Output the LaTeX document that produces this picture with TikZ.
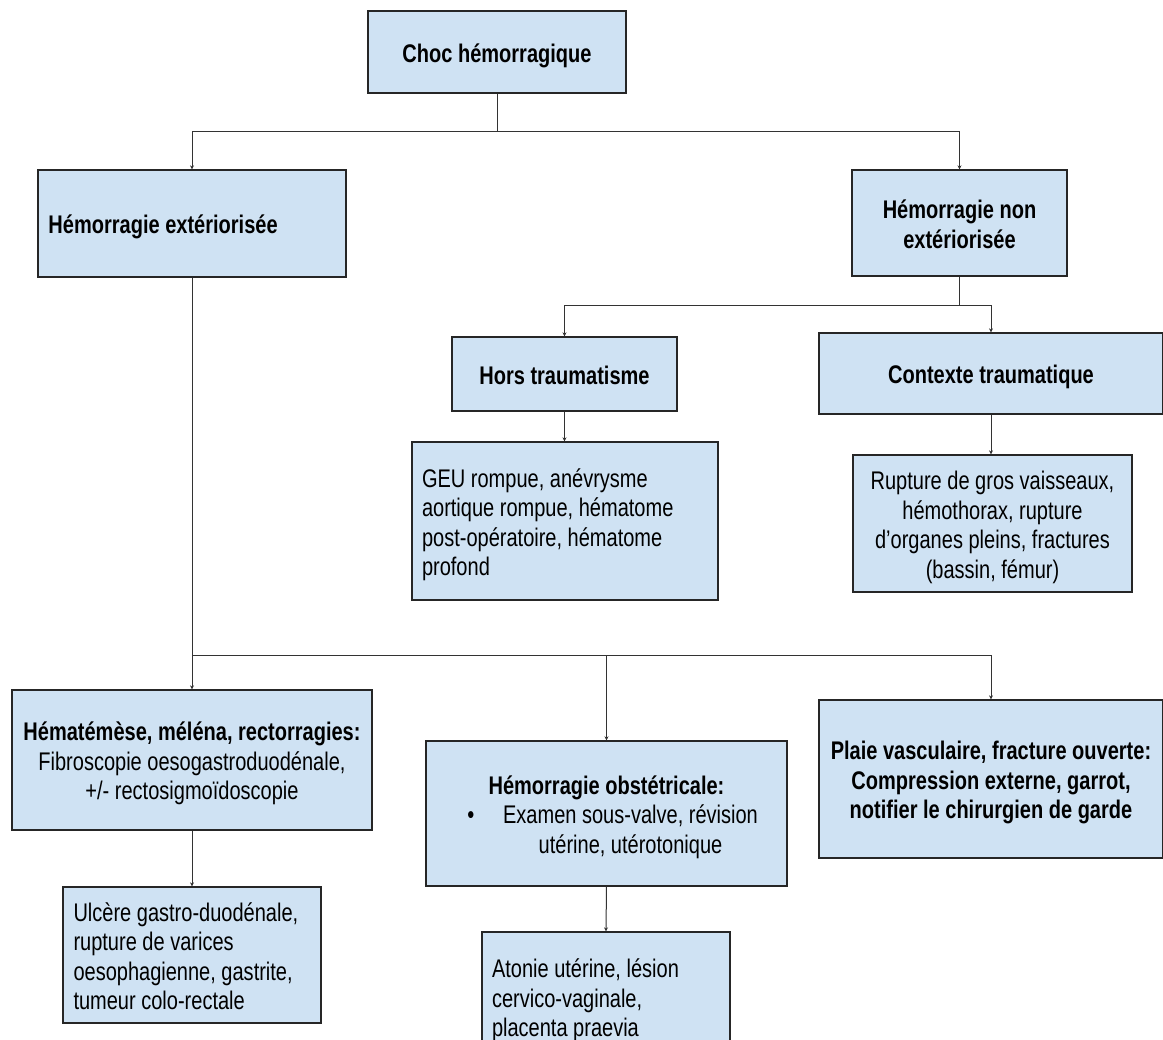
\documentclass[tikz,border=0pt]{standalone}
\usepackage{fontspec}
\setmainfont{Liberation Sans}[FakeStretch=0.785]
\usetikzlibrary{arrows.meta}

\definecolor{boxfill}{HTML}{CFE2F3}
\definecolor{boxline}{HTML}{262626}
\definecolor{wire}{HTML}{333333}

% struts fixing the height of the first line and the depth of the last one
\newcommand\topst{\rule{0pt}{26pt}}
\newcommand\botst{\rule[-5pt]{0pt}{5pt}}

\tikzset{
  card/.style={rectangle, draw=boxline, line width=1.3pt, fill=boxfill,
    inner sep=0pt, align=center, font=\fontsize{25.5}{29.5}\selectfont},
  lcard/.style={card, align=flush left, inner xsep=10pt},
  conn/.style={draw=wire, line width=1pt},
  arr/.style={conn, -{Stealth[length=4pt,width=4pt]}},
}

\begin{document}
\begin{tikzpicture}[x=1pt,y=-1pt]
  \useasboundingbox (0,0) rectangle (1163,1040);
  \clip (0,0) rectangle (1163,1040);

  % level 1
  \node[card, minimum width=258pt, minimum height=82pt] (choc) at (497,52)
    {\topst\bfseries Choc hémorragique\botst};

  % level 2
  \node[lcard, minimum width=308pt, text width=287pt, minimum height=107pt] (hext) at (192,223.5)
    {\topst\bfseries Hémorragie extériorisée\botst};
  \node[card, minimum width=215pt, minimum height=106pt] (hnon) at (959.5,223)
    {\topst\bfseries Hémorragie non\\\bfseries extériorisée\botst};

  % non-external branch
  \node[card, minimum width=225pt, minimum height=74pt] (hors) at (564.5,374)
    {\topst\bfseries Hors traumatisme\botst};
  \node[card, minimum width=344pt, minimum height=81pt] (ctx) at (991,373.5)
    {\topst\bfseries Contexte traumatique\botst};
  \node[lcard, minimum width=306pt, text width=286pt, minimum height=158pt] (geu) at (565,521)
    {\topst GEU rompue, anévrysme\\aortique rompue, hématome\\post-opératoire, hématome\\profond\botst};
  \node[card, minimum width=279pt, minimum height=137pt] (rup) at (992.5,523.5)
    {\topst Rupture de gros vaisseaux,\\hémothorax, rupture\\d’organes pleins, fractures\\(bassin, fémur)\botst};

  % external branch
  \node[card, minimum width=360pt, minimum height=140pt] (hema) at (192,760)
    {\topst\bfseries Hématémèse, méléna, rectorragies:\\Fibroscopie oesogastroduodénale,\\+/- rectosigmoïdoscopie\botst};
  \node[card, minimum width=361pt, minimum height=145pt] (obst) at (606.5,813.5)
    {\topst{\bfseries Hémorragie obstétricale:}\\
     \hspace*{21pt}\textbullet\hspace*{20pt}\parbox[t]{272pt}{\centering Examen sous-valve, révision\\utérine, utérotonique\botst}};
  \node[card, minimum width=344pt, minimum height=158pt] (plaie) at (991,779)
    {\topst\bfseries Plaie vasculaire, fracture ouverte:\\\bfseries Compression externe, garrot,\\\bfseries notifier le chirurgien de garde\botst};
  \node[lcard, minimum width=258pt, text width=237pt, minimum height=136pt] (ulc) at (192,955)
    {\topst Ulcère gastro-duodénale,\\rupture de varices\\oesophagienne, gastrite,\\tumeur colo-rectale\botst};
  \node[lcard, minimum width=248pt, text width=228pt, minimum height=130pt] (aton) at (606,997)
    {\topst Atonie utérine, lésion\\cervico-vaginale,\\placenta praevia\botst};

  % junction points
  \coordinate (j1) at (497,132);
  \coordinate (j2) at (959.5,306);
  \coordinate (j3) at (192,655);

  % connectors
  \draw[conn] (choc.south) -- (j1);
  \draw[arr] (j1) -| (hext.north);
  \draw[arr] (j1) -| (hnon.north);

  \draw[conn] (hnon.south) -- (j2);
  \draw[arr] (j2) -| (hors.north);
  \draw[arr] (j2) -| (ctx.north);
  \draw[arr] (hors.south) -- (hors.south |- geu.north);
  \draw[arr] (ctx.south) -- (ctx.south |- rup.north);

  \draw[arr] (hext.south) -- (hema.north);
  \draw[arr] (j3) -| (obst.north);
  \draw[arr] (j3) -| (plaie.north);
  \draw[arr] (hema.south) -- (ulc.north);
  \draw[arr] (obst.south) -- (aton.north);
\end{tikzpicture}
\end{document}
